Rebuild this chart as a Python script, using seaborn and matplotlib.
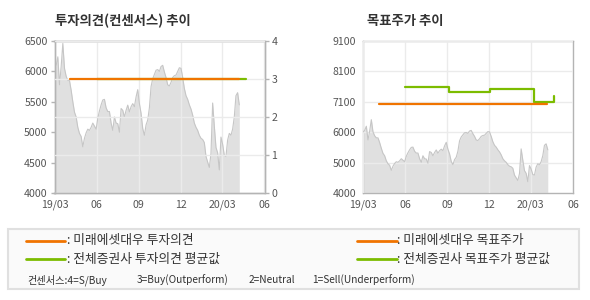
import matplotlib
matplotlib.use('Agg')
import matplotlib.pyplot as plt
import matplotlib.dates as mdates
from matplotlib.lines import Line2D
from matplotlib.patches import Rectangle
import seaborn as sns
import pandas as pd

# ---------------- data ----------------
price = [6050, 6100, 6240, 5780, 6080, 6460, 6050, 5920, 5850, 5850,
         5690, 5500, 5330, 5250, 5080, 4980, 4930, 4760, 4900, 4990,
         5050, 5030, 5080, 5150, 5100, 5050, 5230, 5350, 5450, 5530,
         5540, 5400, 5340, 5340, 5150, 5030, 5250, 5150, 5140, 5000,
         5390, 5360, 5250, 5360, 5445, 5335, 5420, 5470, 5420, 5580,
         5700, 5470, 5310, 5060, 4950, 5120, 5200, 5400, 5750, 5880,
         5950, 6020, 6030, 6000, 6080, 6100, 5990, 5900, 5780, 5760,
         5820, 5900, 5930, 5940, 6000, 6060, 6050, 5900, 5720, 5600,
         5540, 5450, 5380, 5280, 5150, 5080, 5030, 4950, 4900, 4880,
         4830, 4600, 4510, 4420, 4650, 5480, 5100, 4750, 4660, 4380,
         4920, 4800, 4620, 4600, 4870, 4980, 4950, 5050, 5250, 5600,
         5650, 5450]
price_start, price_end = '2019-03-01', '2020-04-07'

opinion_ours_dates = ['2019-04-04', '2020-04-07']
opinion_ours = [3, 3]
opinion_avg_dates = ['2019-06-01', '2020-04-21']
opinion_avg = [3, 3]

target_ours_dates = ['2019-04-05', '2020-04-06']
target_ours = [7000, 7000]
target_avg_dates = ['2019-06-01', '2019-09-04', '2019-12-04', '2020-03-07', '2020-04-20']
target_avg = [7560, 7390, 7490, 7060, 7260]

x_ticks = ['2019-03-01', '2019-06-01', '2019-09-01', '2019-12-01', '2020-03-01', '2020-06-01']
x_labels = ['19/03', '06', '09', '12', '20/03', '06']
left_price_ticks = [4000, 4500, 5000, 5500, 6000, 6500]
opinion_ticks = [0, 1, 2, 3, 4]
target_ticks = [4000, 5020, 6040, 7060, 8080, 9100]
target_labels = ['4000', '5000', '6000', '7100', '8100', '9100']

title_left = '투자의견(컨센서스) 추이'
title_right = '목표주가 추이'
legend_items = [': 미래에셋대우 투자의견', ': 전체증권사 투자의견 평균값',
                ': 미래에셋대우 목표주가', ': 전체증권사 목표주가 평균값']
consensus_notes = ['컨센서스:4=S/Buy', '3=Buy(Outperform)', '2=Neutral', '1=Sell(Underperform)']

# ---------------- style ----------------
sns.set_style('white')
plt.rcParams['font.family'] = ['Noto Sans CJK KR', 'DejaVu Sans']

ORANGE = '#f07400'
GREEN = '#7cbc00'
FILL = '#e0e0e0'
PLINE = '#c6c6c6'
GRID = '#ebebeb'
SPINE = '#b4b4b4'
LABEL = '#555555'

W, H = 590, 300
fig = plt.figure(figsize=(W / 100, H / 100), dpi=100)
fig.patch.set_facecolor('white')

pdates = pd.date_range(price_start, price_end, periods=len(price))
xt = pd.to_datetime(x_ticks)
xlim = (xt[0], xt[-1])


def style_axis(ax):
    for s in ax.spines.values():
        s.set_color(SPINE)
        s.set_linewidth(1)
    ax.tick_params(direction='out', length=3, width=1, color=SPINE,
                   labelcolor=LABEL, labelsize=7.6, pad=2)


def axes_rect(l, r, t, b):
    return [l / W, 1 - b / H, (r - l) / W, (b - t) / H]


# ---------------- left chart ----------------
axL = fig.add_axes(axes_rect(54.5, 264.5, 41, 193))
axL.fill_between(pdates, price, 4000, color=FILL, lw=0, zorder=1)
sns.lineplot(x=pdates, y=price, ax=axL, color=PLINE, lw=0.8, zorder=3)
axL.set_xlim(*xlim)
axL.set_ylim(4000, 6500)
axL.set_yticks(left_price_ticks)
axL.set_xticks(xt)
axL.set_xticklabels(x_labels)
axL.set_axisbelow(False)
axL.grid(axis='x', color=GRID, lw=1)
axL.grid(axis='y', visible=False)
axL.set_xlabel('')
axL.set_ylabel('')
style_axis(axL)

axL2 = axL.twinx()
sns.lineplot(x=pd.to_datetime(opinion_avg_dates), y=opinion_avg, ax=axL2,
             color=GREEN, lw=1.6, zorder=3)
sns.lineplot(x=pd.to_datetime(opinion_ours_dates), y=opinion_ours, ax=axL2,
             color=ORANGE, lw=1.6, zorder=4)
axL2.set_ylim(0, 4)
axL2.set_yticks(opinion_ticks)
axL2.set_axisbelow(False)
axL2.grid(axis='y', color=GRID, lw=1)
axL2.set_xlim(*xlim)
axL2.set_ylabel('')
style_axis(axL2)

# ---------------- right chart ----------------
axR = fig.add_axes(axes_rect(363, 573, 41, 193))
axR.fill_between(pdates, price, 4000, color=FILL, lw=0, zorder=1)
sns.lineplot(x=pdates, y=price, ax=axR, color=PLINE, lw=0.8, zorder=3)
sns.lineplot(x=pd.to_datetime(target_avg_dates), y=target_avg, ax=axR,
             color=GREEN, lw=1.6, drawstyle='steps-post', zorder=4)
sns.lineplot(x=pd.to_datetime(target_ours_dates), y=target_ours, ax=axR,
             color=ORANGE, lw=1.6, zorder=5)
axR.set_xlim(*xlim)
axR.set_ylim(4000, 9100)
axR.set_yticks(target_ticks)
axR.set_yticklabels(target_labels)
axR.set_xticks(xt)
axR.set_xticklabels(x_labels)
axR.set_axisbelow(False)
axR.grid(True, color=GRID, lw=1)
axR.set_xlabel('')
axR.set_ylabel('')
style_axis(axR)

# ---------------- titles ----------------
fig.text(55 / W, 1 - 21 / H, title_left, fontsize=9.6, fontweight='bold',
         color='#333333', va='center', ha='left')
fig.text(367 / W, 1 - 21 / H, title_right, fontsize=9.6, fontweight='bold',
         color='#333333', va='center', ha='left')

# ---------------- legend box ----------------
fig.add_artist(Rectangle((8 / W, 1 - 289 / H), (579 - 8) / W, (289 - 228.5) / H,
                         transform=fig.transFigure, facecolor='#fafafa',
                         edgecolor='#e0e0e0', lw=1.5, zorder=0))
rows = [(26, 65, 67, 240.7, ORANGE, legend_items[0]),
        (26, 65, 67, 259.3, GREEN, legend_items[1]),
        (357, 397, 397, 240.7, ORANGE, legend_items[2]),
        (357, 397, 397, 259.3, GREEN, legend_items[3])]
for x0, x1, tx, y, c, label in rows:
    fig.add_artist(Line2D([x0 / W, x1 / W], [1 - y / H, 1 - y / H],
                          transform=fig.transFigure, color=c, lw=2.0))
    fig.text(tx / W, 1 - y / H, label, fontsize=9.2, color='#333333',
             va='center', ha='left')
for x, note in zip([27, 137, 249, 312], consensus_notes):
    fig.text(x / W, 1 - 280 / H, note, fontsize=7.3, color='#333333',
             va='center', ha='left')

fig.savefig('out.png', dpi=100, facecolor='white')
